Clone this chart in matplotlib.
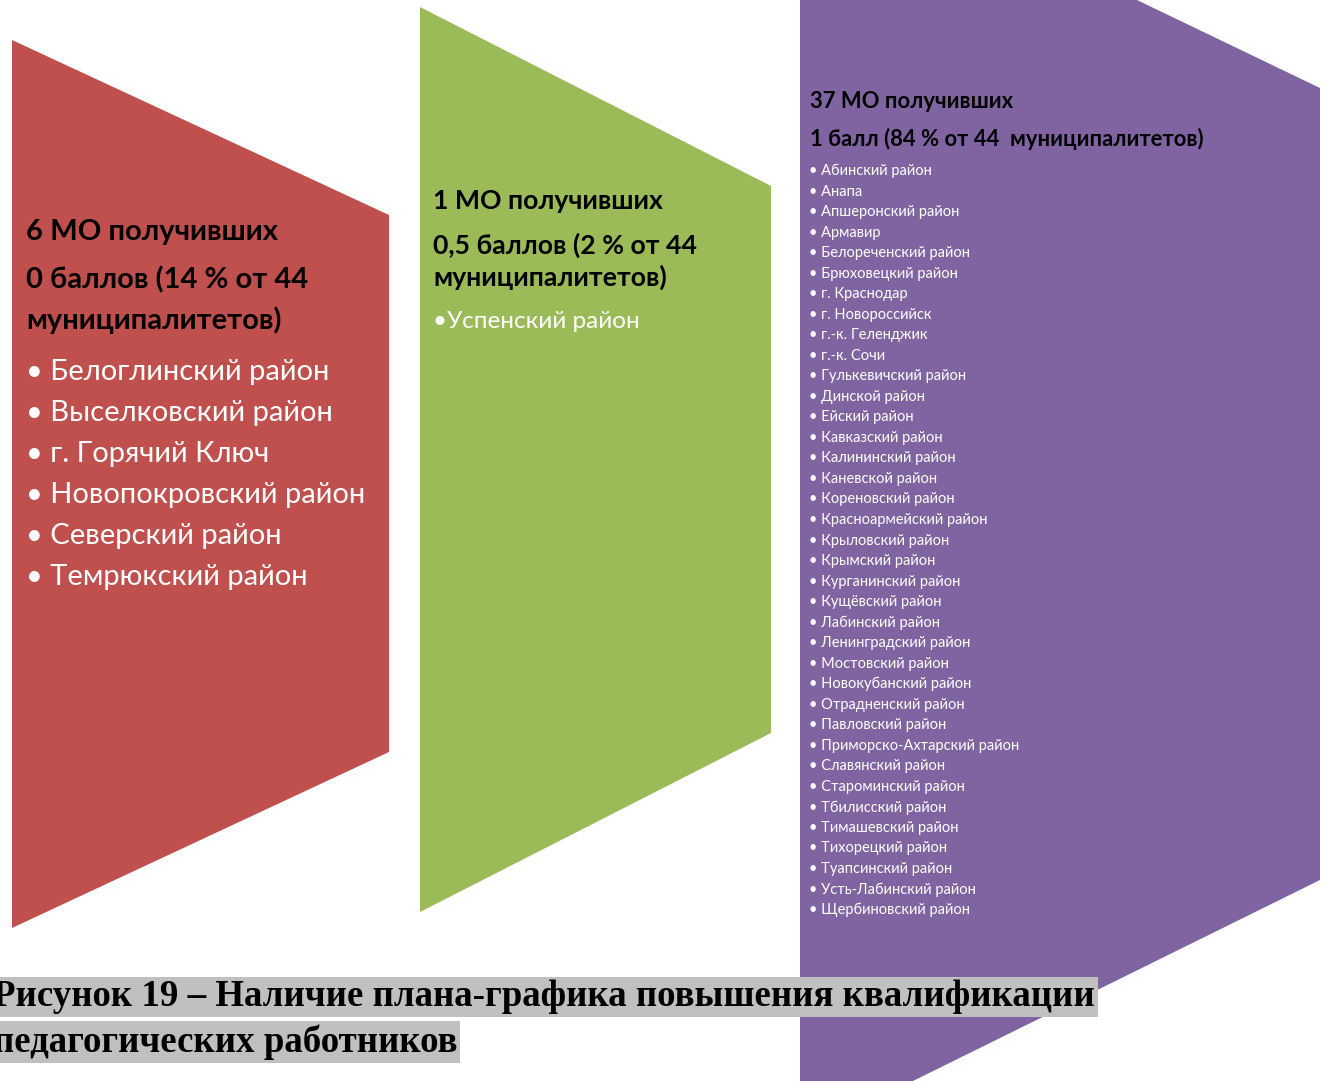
import matplotlib.pyplot as plt
from matplotlib.patches import Polygon

plt.rcParams['font.family'] = ['Lato', 'DejaVu Sans']

# block headers and member lists
red_head = ['6 МО получивших', '0 баллов (14 % от 44', 'муниципалитетов)']
red_items = ['Белоглинский район', 'Выселковский район', 'г. Горячий Ключ',
             'Новопокровский район', 'Северский район', 'Темрюкский район']

green_head = ['1 МО получивших', '0,5 баллов (2 % от 44', 'муниципалитетов)']
green_items = ['Успенский район']

purple_head = ['37 МО получивших', '1 балл (84 % от 44  муниципалитетов)']
purple_items = ['Абинский район', 'Анапа', 'Апшеронский район', 'Армавир',
                'Белореченский район', 'Брюховецкий район', 'г. Краснодар',
                'г. Новороссийск', 'г.-к. Геленджик', 'г.-к. Сочи',
                'Гулькевичский район', 'Динской район', 'Ейский район',
                'Кавказский район', 'Калининский район', 'Каневской район',
                'Кореновский район', 'Красноармейский район', 'Крыловский район',
                'Крымский район', 'Курганинский район', 'Кущёвский район',
                'Лабинский район', 'Ленинградский район', 'Мостовский район',
                'Новокубанский район', 'Отрадненский район', 'Павловский район',
                'Приморско-Ахтарский район', 'Славянский район',
                'Староминский район', 'Тбилисский район', 'Тимашевский район',
                'Тихорецкий район', 'Туапсинский район', 'Усть-Лабинский район',
                'Щербиновский район']

caption = ['Рисунок 19 – Наличие плана-графика повышения квалификации',
           'педагогических работников']

W, H = 1325, 1081
fig = plt.figure(figsize=(W / 100, H / 100), dpi=100)
ax = fig.add_axes([0, 0, 1, 1])
ax.set_xlim(0, W)
ax.set_ylim(H, 0)
ax.axis('off')

# shapes
ax.add_patch(Polygon([(12, 40), (389, 215), (389, 752), (12, 928)],
                     closed=True, color='#C0504D', lw=0))
ax.add_patch(Polygon([(420, 7), (771, 186), (771, 733), (420, 912)],
                     closed=True, color='#9BBB59', lw=0))
ax.add_patch(Polygon([(800, 0), (1137, 0), (1320, 88), (1320, 880),
                      (913, 1081), (800, 1081)],
                     closed=True, color='#8064A2', lw=0))

# red block
for txt, y in zip(red_head, [232, 280, 320]):
    ax.text(26, y, txt, fontsize=21, fontweight='bold', color='black',
            va='center', ha='left')
for i, txt in enumerate(red_items):
    ax.text(26, 372 + i * 41, '• ' + txt, fontsize=21, color='white',
            va='center', ha='left')

# green block
for txt, y in zip(green_head, [201, 245, 277]):
    ax.text(433, y, txt, fontsize=19.2, fontweight='bold', color='black',
            va='center', ha='left')
for txt in green_items:
    ax.text(433, 321, '•' + txt, fontsize=17.5, color='white',
            va='center', ha='left')

# purple block
for txt, y in zip(purple_head, [101, 139]):
    ax.text(810, y, txt, fontsize=15.8, fontweight='bold', color='black',
            va='center', ha='left')
step = (910 - 171) / (len(purple_items) - 1)
for i, txt in enumerate(purple_items):
    ax.text(809, 171 + i * step, '• ' + txt, fontsize=10.55, color='white',
            va='center', ha='left')

# caption with grey highlight
for txt, y in zip(caption, [997, 1042]):
    ax.text(-7, y, txt, fontsize=26.6, fontweight='bold', color='black',
            family='Liberation Serif', va='center', ha='left',
            bbox=dict(boxstyle='square,pad=0.08', fc='#C0C0C0', ec='none'))

fig.savefig('out.png', dpi=100)
